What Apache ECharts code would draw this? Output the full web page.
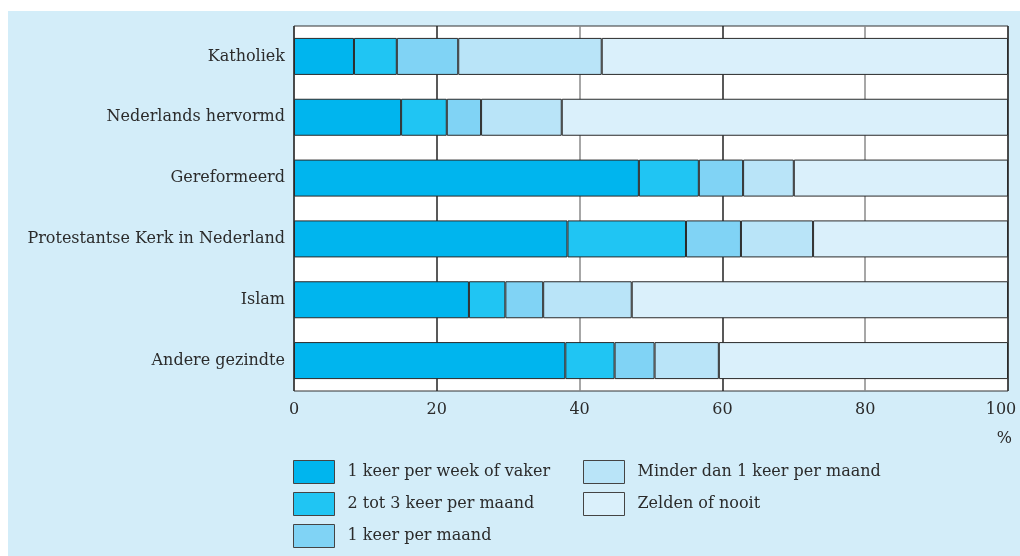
<!DOCTYPE html>
<html>
<head>
<meta charset="utf-8">
<script src="https://cdn.jsdelivr.net/npm/echarts@6/dist/echarts.min.js"></script>
<style>
    body { margin: 0; background: #ffffff; }
    #panel { position: absolute; left: 8px; top: 11px; width: 1012px; height: 545px; background: #d3edf9; }
    #chart { position: absolute; left: 0; top: 0; width: 1020px; height: 556px; }
</style>
</head>
<body>
<div id="panel"></div>
<div id="chart"></div>
<script>
// categories (top to bottom)
const groups = [
    'Katholiek',
    'Nederlands hervormd',
    'Gereformeerd',
    'Protestantse Kerk in Nederland',
    'Islam',
    'Andere gezindte',
];

const seriesNames = [
    '1 keer per week of vaker',
    '2 tot 3 keer per maand',
    '1 keer per maand',
    'Minder dan 1 keer per maand',
    'Zelden of nooit',
];

// percentages
const weekly = [8.4, 15.0, 48.3, 38.3, 24.5, 38.0];
const twoThreeMonthly = [6.0, 6.4, 8.4, 16.6, 5.1, 6.9];
const monthly = [8.6, 4.8, 6.2, 7.7, 5.3, 5.6];
const lessThanMonthly = [20.1, 11.3, 7.1, 10.1, 12.4, 9.0];
const seldom = [56.9, 62.5, 30.0, 27.3, 52.7, 40.5];

const xTicks = [0, 20, 40, 60, 80, 100];

const colors = ['#00b5ee', '#20c5f3', '#80d3f5', '#b9e4f8', '#daf0fb'];
const values = [weekly, twoThreeMonthly, monthly, lessThanMonthly, seldom];

const font = '"DejaVu Serif", "Liberation Serif", serif';

function buildSeries() {
    return seriesNames.map((name, i) => ({
        name: name,
        type: 'bar',
        stack: 'total',
        barWidth: 37,
        data: values[i],
        itemStyle: {
            color: colors[i],
            borderColor: '#2a2a2a',
            borderWidth: 1,
        },
    }));
}

function legendBlock(names, left) {
    return {
        data: names,
        orient: 'vertical',
        left: left,
        top: 460,
        height: 96,
        padding: 0,
        itemWidth: 41,
        itemHeight: 23,
        itemGap: 8,
        icon: 'rect',
        textStyle: {
            fontFamily: font,
            fontSize: 16,
            color: '#2b2b2b',
            padding: [0, 0, 0, 8],
        },
        itemStyle: {
            borderColor: '#444',
            borderWidth: 1,
        },
    };
}

function main() {
    const chart = echarts.init(document.getElementById('chart'));
    const lastTick = xTicks[xTicks.length - 1];
    const option = {
        animation: false,
        grid: {
            left: 294,
            right: 12,
            top: 26,
            bottom: 165,
            outerBoundsMode: 'none',
            show: true,
            backgroundColor: '#ffffff',
            borderColor: '#333333',
            borderWidth: 1,
        },
        xAxis: {
            type: 'value',
            min: xTicks[0],
            max: lastTick,
            interval: 20,
            axisLine: { show: false },
            axisTick: { show: false },
            axisLabel: {
                margin: 11,
                fontFamily: font,
                fontSize: 16,
                color: '#2b2b2b',
                // last label sits a little left of its tick, as in the original
                formatter: (v) => (v === lastTick ? '{last|' + v + '}' : String(v)),
                rich: {
                    last: {
                        fontFamily: font,
                        fontSize: 16,
                        color: '#2b2b2b',
                        padding: [0, 14, 0, 0],
                    },
                },
            },
            splitLine: {
                lineStyle: {
                    color: ['#333333', '#222222', '#8a8a8a', '#222222', '#8a8a8a', '#333333'],
                    width: 1.5,
                },
            },
        },
        yAxis: {
            type: 'category',
            data: groups,
            inverse: true,
            axisLine: { show: false },
            axisTick: { show: false },
            splitLine: { show: false },
            axisLabel: {
                margin: 9,
                fontFamily: font,
                fontSize: 16,
                color: '#2b2b2b',
            },
        },
        legend: [
            legendBlock(seriesNames.slice(0, 3), 293),
            legendBlock(seriesNames.slice(3), 583),
        ],
        graphic: [
            {
                type: 'text',
                right: 8,
                top: 431,
                style: {
                    text: '%',
                    fontFamily: font,
                    fontSize: 16,
                    fill: '#2b2b2b',
                },
            },
        ],
        series: buildSeries(),
    };
    chart.setOption(option);
}

main();
</script>
</body>
</html>
